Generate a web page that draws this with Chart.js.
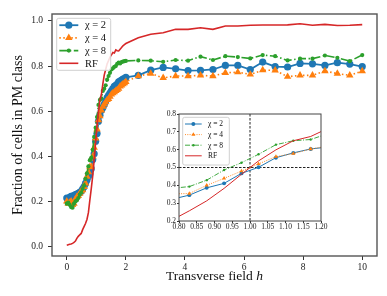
<!DOCTYPE html>
<html>
<head>
<meta charset="utf-8">
<script src="https://cdn.jsdelivr.net/npm/chart.js@4.4.0/dist/chart.umd.min.js"></script>
<style>
  html, body { margin: 0; padding: 0; background: #fff; }
  #wrap { position: relative; width: 387px; height: 296px; }
  #main { position: absolute; left: 0; top: 0; }
  #inset { position: absolute; left: 155px; top: 108px; }
</style>
</head>
<body>
<div id="wrap">
  <canvas id="main" width="387" height="296"></canvas>
  <canvas id="inset" width="175" height="128"></canvas>
</div>
<script>
// transverse field values (dense grid 0..2, then coarse grid up to 10)
const fieldH = [
  0, 0.049, 0.098, 0.146, 0.195, 0.244, 0.293, 0.341, 0.390, 0.439, 0.488, 0.537, 0.585, 0.634,
  0.683, 0.732, 0.780, 0.829, 0.878, 0.927, 0.976, 1.024, 1.073, 1.122, 1.171, 1.220, 1.268,
  1.317, 1.366, 1.415, 1.463, 1.512, 1.561, 1.610, 1.659, 1.707, 1.756, 1.805, 1.854, 1.902,
  1.951, 2.0,
  2.421, 2.842, 3.263, 3.684, 4.105, 4.526, 4.947, 5.368, 5.789, 6.211, 6.632, 7.053, 7.474,
  7.895, 8.316, 8.737, 9.158, 9.579, 10.0
];

const chi2 = [
  0.215, 0.212, 0.218, 0.222, 0.224, 0.226, 0.230, 0.232, 0.236, 0.240, 0.245, 0.255, 0.265, 0.280,
  0.295, 0.310, 0.322, 0.345, 0.386, 0.411, 0.467, 0.501, 0.555, 0.582, 0.604, 0.615, 0.630,
  0.645, 0.660, 0.670, 0.680, 0.690, 0.700, 0.710, 0.715, 0.720, 0.730, 0.733, 0.738, 0.742,
  0.745, 0.750,
  0.759, 0.782, 0.794, 0.788, 0.780, 0.781, 0.785, 0.803, 0.803, 0.785, 0.818, 0.798, 0.796,
  0.812, 0.810, 0.803, 0.815, 0.809, 0.798
];

const chi4 = [
  0.200, 0.190, 0.195, 0.200, 0.185, 0.190, 0.210, 0.220, 0.225, 0.235, 0.245, 0.250, 0.265, 0.280,
  0.310, 0.330, 0.352, 0.354, 0.400, 0.439, 0.480, 0.520, 0.561, 0.578, 0.604, 0.620, 0.630,
  0.640, 0.650, 0.655, 0.665, 0.675, 0.680, 0.685, 0.690, 0.695, 0.700, 0.710, 0.715, 0.720,
  0.725, 0.730,
  0.756, 0.767, 0.748, 0.756, 0.756, 0.759, 0.756, 0.770, 0.773, 0.763, 0.782, 0.781, 0.753,
  0.759, 0.759, 0.778, 0.767, 0.759, 0.778
];

const chi8 = [
  0.190, 0.195, 0.185, 0.175, 0.172, 0.190, 0.200, 0.205, 0.215, 0.230, 0.240, 0.255, 0.270, 0.300,
  0.325, 0.355, 0.383, 0.393, 0.429, 0.486, 0.527, 0.574, 0.628, 0.650, 0.657, 0.690, 0.700,
  0.715, 0.740, 0.756, 0.770, 0.785, 0.790, 0.797, 0.800, 0.810, 0.815, 0.812, 0.818, 0.820,
  0.822, 0.823,
  0.825, 0.824, 0.819, 0.827, 0.824, 0.842, 0.827, 0.844, 0.840, 0.834, 0.849, 0.844, 0.825,
  0.833, 0.833, 0.847, 0.837, 0.822, 0.849
];

const rf = [
  0.006, 0.008, 0.010, 0.011, 0.014, 0.018, 0.024, 0.036, 0.045, 0.052, 0.058, 0.075, 0.088, 0.102,
  0.120, 0.150, 0.205, 0.257, 0.313, 0.383, 0.462, 0.537, 0.599, 0.650, 0.674, 0.720, 0.760,
  0.785, 0.810, 0.825, 0.840, 0.850, 0.860, 0.858, 0.872, 0.868, 0.867, 0.875, 0.882, 0.890,
  0.895, 0.900,
  0.926, 0.941, 0.948, 0.963, 0.963, 0.970, 0.963, 0.978, 0.978, 0.981, 0.982, 0.982, 0.983,
  0.988, 0.981, 0.985, 0.980, 0.981, 0.984
];

const seriesLabels = ['χ = 2', 'χ = 4', 'χ = 8', 'RF'];
const mainXTicks = [0, 2, 4, 6, 8, 10];
const mainYTicks = [0.0, 0.2, 0.4, 0.6, 0.8, 1.0];
const insetXTicks = [0.80, 0.85, 0.90, 0.95, 1.00, 1.05, 1.10, 1.15, 1.20];
const insetYTicks = [0.2, 0.3, 0.4, 0.5, 0.6, 0.7, 0.8];

const SERIF = '"Liberation Serif", "DejaVu Serif", serif';
const BLUE = '#1f77b4', ORANGE = '#ff7f0e', GREEN = '#2ca02c', RED = '#d62728';

function pts(values) {
  return fieldH.map((h, i) => ({ x: h, y: values[i] }));
}

// small = inset version (thin lines, small markers)
function makeDatasets(small) {
  const s = small ? 0.55 : 1;
  return [
    { label: seriesLabels[0], data: pts(chi2), borderColor: BLUE, backgroundColor: BLUE,
      borderWidth: small ? 1 : 1.8, borderDash: [], pointStyle: 'circle',
      pointRadius: 3.6 * s, order: 3 },
    { label: seriesLabels[1], data: pts(chi4), borderColor: ORANGE, backgroundColor: ORANGE,
      borderWidth: small ? 0.9 : 1.6, borderDash: small ? [1, 1.3] : [1.5, 2.5], pointStyle: 'triangle',
      pointRadius: 4.3 * s, order: 2 },
    { label: seriesLabels[2], data: pts(chi8), borderColor: GREEN, backgroundColor: GREEN,
      borderWidth: small ? 0.9 : 1.6, borderDash: small ? [5, 1.5, 1, 1.5] : [8, 2.5, 1.5, 2.5], pointStyle: 'circle',
      pointRadius: small ? 1.2 : 2.1, order: 1 },
    { label: seriesLabels[3], data: pts(rf), borderColor: RED, backgroundColor: RED,
      borderWidth: small ? 1 : 1.6, borderDash: [], pointStyle: 'circle',
      pointRadius: 0, order: 0 }
  ].map(d => Object.assign(d, { pointBorderWidth: 0, pointHoverRadius: 0, tension: 0, fill: false }));
}

// box frame round the plot area, like matplotlib spines
const framePlugin = {
  id: 'frame',
  afterDatasetsDraw(chart, args, opts) {
    const a = chart.chartArea, ctx = chart.ctx;
    ctx.save();
    ctx.strokeStyle = opts.color;
    ctx.lineWidth = opts.width;
    ctx.strokeRect(a.left, a.top, a.right - a.left, a.bottom - a.top);
    ctx.restore();
  }
};

// legend drawn inside the axes, upper left
const boxLegendPlugin = {
  id: 'boxLegend',
  afterDraw(chart, args, o) {
    const ctx = chart.ctx, a = chart.chartArea;
    const x = a.left + o.dx, y = a.top + o.dy;
    ctx.save();
    ctx.beginPath();
    ctx.roundRect(x, y, o.w, o.h, 2);
    ctx.fillStyle = 'rgba(255,255,255,0.85)';
    ctx.fill();
    ctx.strokeStyle = '#d0d0d0';
    ctx.lineWidth = 1;
    ctx.stroke();
    chart.data.datasets.forEach((ds, i) => {
      const cy = y + o.first + o.rowH * i;
      ctx.strokeStyle = ds.borderColor;
      ctx.lineWidth = ds.borderWidth;
      ctx.setLineDash(ds.borderDash || []);
      ctx.beginPath();
      ctx.moveTo(x + o.l0, cy);
      ctx.lineTo(x + o.l1, cy);
      ctx.stroke();
      ctx.setLineDash([]);
      if (ds.pointRadius > 0) {
        ctx.fillStyle = ds.backgroundColor;
        Chart.helpers.drawPoint(ctx, { pointStyle: ds.pointStyle, radius: ds.pointRadius, borderWidth: 0, rotation: 0 },
          x + (o.l0 + o.l1) / 2, cy);
      }
      ctx.fillStyle = '#111';
      ctx.font = o.fontSize + 'px ' + SERIF;
      ctx.textBaseline = 'middle';
      ctx.textAlign = 'left';
      ctx.fillText(ds.label, x + o.tx, cy + 0.5);
    });
    ctx.restore();
  }
};

// x title with italic h
const xTitlePlugin = {
  id: 'xTitle',
  afterDraw(chart) {
    const ctx = chart.ctx, a = chart.chartArea;
    ctx.save();
    ctx.fillStyle = '#111';
    ctx.textBaseline = 'middle';
    ctx.textAlign = 'left';
    const t1 = 'Transverse field ', t2 = 'h';
    ctx.font = '13.5px ' + SERIF;
    const w1 = ctx.measureText(t1).width;
    ctx.font = 'italic 13.5px ' + SERIF;
    const w2 = ctx.measureText(t2).width;
    const x0 = (a.left + a.right) / 2 - (w1 + w2) / 2;
    ctx.font = '13.5px ' + SERIF;
    ctx.fillText(t1, x0, 276);
    ctx.font = 'italic 13.5px ' + SERIF;
    ctx.fillText(t2, x0 + w1, 276);
    ctx.restore();
  }
};

// dashed guides in the inset at h = 1 and fraction = 0.5
const guidePlugin = {
  id: 'guides',
  beforeDatasetsDraw(chart) {
    const ctx = chart.ctx, a = chart.chartArea;
    const gx = chart.scales.x.getPixelForValue(1.0);
    const gy = chart.scales.y.getPixelForValue(0.5);
    ctx.save();
    ctx.strokeStyle = '#222';
    ctx.lineWidth = 1;
    ctx.setLineDash([2.5, 1.5]);
    ctx.beginPath();
    ctx.moveTo(gx, a.top); ctx.lineTo(gx, a.bottom);
    ctx.moveTo(a.left, gy); ctx.lineTo(a.right, gy);
    ctx.stroke();
    ctx.restore();
  }
};

const whiteBg = {
  id: 'whiteBg',
  beforeDraw(chart) {
    const ctx = chart.ctx;
    ctx.save();
    ctx.fillStyle = '#fff';
    ctx.fillRect(0, 0, chart.width, chart.height);
    ctx.restore();
  }
};

function axisOpts(min, max, tickList, fmt, fontSize, tickLen, pad, fitSize, horizontal) {
  return {
    type: 'linear', min: min, max: max,
    afterBuildTicks: s => { s.ticks = tickList.map(v => ({ value: v })); },
    afterFit: s => { if (horizontal) s.height = fitSize; else s.width = fitSize; },
    grid: { display: true, drawOnChartArea: false, drawTicks: true, tickLength: tickLen, tickWidth: 1, tickColor: '#333' },
    border: { display: false },
    ticks: { font: { family: SERIF, size: fontSize }, color: '#222', padding: pad,
      maxRotation: 0, autoSkip: false, callback: fmt }
  };
}

new Chart(document.getElementById('main'), {
  type: 'line',
  data: { datasets: makeDatasets(false) },
  options: {
    responsive: false, animation: false, events: [],
    layout: { padding: { left: 0, top: 14, right: 10, bottom: 0 } },
    plugins: {
      legend: { display: false }, tooltip: { enabled: false },
      frame: { color: '#555', width: 1.4 },
      boxLegend: { dx: 4.7, dy: 4.3, w: 54, h: 52, first: 6.9, rowH: 12.7, l0: 2.6, l1: 21.6, tx: 28.3, fontSize: 10.5 }
    },
    scales: {
      x: axisOpts(-0.5, 10.5, mainXTicks, v => String(v), 9.5, 4, 2, 40, true),
      y: Object.assign(axisOpts(-0.042, 1.031, mainYTicks, v => v.toFixed(1), 9.5, 4, 5, 52, false), {
        title: { display: true, text: 'Fraction of cells in PM class', font: { family: SERIF, size: 14 },
          color: '#111', padding: { top: 10, bottom: 0 } }
      })
    }
  },
  plugins: [framePlugin, boxLegendPlugin, xTitlePlugin]
});

new Chart(document.getElementById('inset'), {
  type: 'line',
  data: { datasets: makeDatasets(true) },
  options: {
    responsive: false, animation: false, events: [],
    layout: { padding: { left: 0, top: 6, right: 9, bottom: 0 } },
    plugins: {
      legend: { display: false }, tooltip: { enabled: false },
      frame: { color: '#444', width: 1 },
      boxLegend: { dx: 3.7, dy: 3.3, w: 46.6, h: 47.7, first: 6.7, rowH: 10.6, l0: 2.3, l1: 19, tx: 25.3, fontSize: 7.5 }
    },
    scales: {
      x: axisOpts(0.8, 1.2, insetXTicks, v => v.toFixed(2), 7.5, 2, 0, 15, true),
      y: axisOpts(0.2, 0.8, insetYTicks, v => v.toFixed(1), 7.5, 2, 1, 24, false)
    }
  },
  plugins: [whiteBg, guidePlugin, framePlugin, boxLegendPlugin]
});
</script>
</body>
</html>
